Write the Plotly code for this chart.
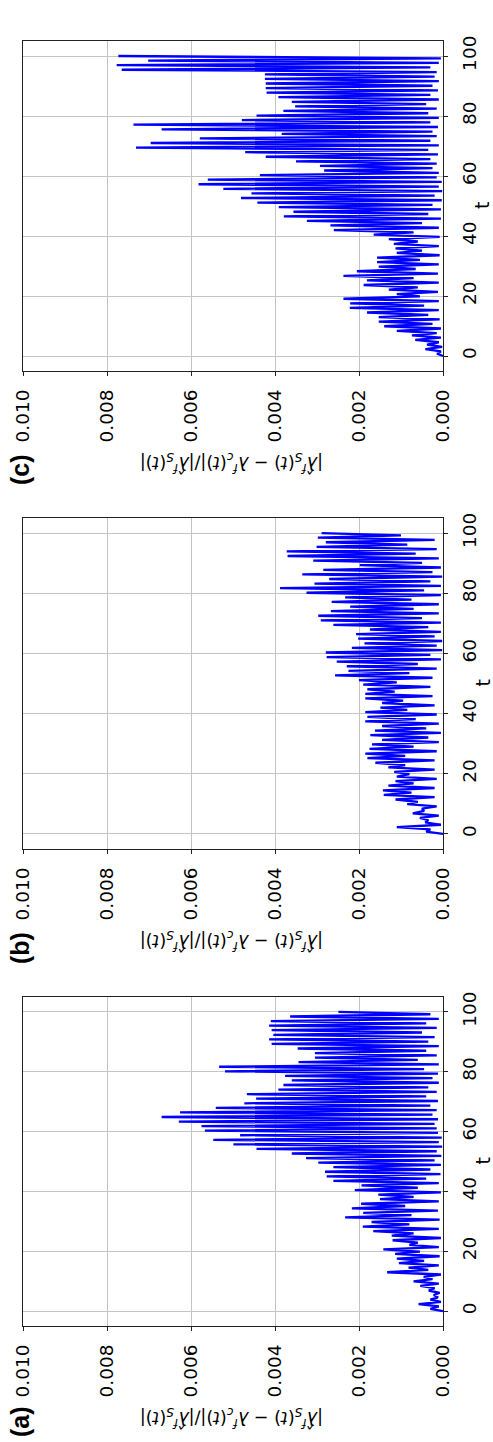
import plotly.graph_objects as go

# ---------------- data (values in units of 1e-3) ----------------
VALUE_SCALE = 1e-3
value_ticks = [0.000, 0.002, 0.004, 0.006, 0.008, 0.010]
value_ticktext = ["0.000", "0.002", "0.004", "0.006", "0.008", "0.010"]
t_ticks = [0, 20, 40, 60, 80, 100]
t_ticktext = ["0", "20", "40", "60", "80", "100"]
panel_labels = ["(a)", "(b)", "(c)"]

peaks_a = [0.30, 0.58, 0.30, 0.22, 0.34, 0.54, 0.70, 0.46, 1.33, 0.82,
           1.05, 1.10, 1.14, 1.42, 0.80, 1.20, 1.22, 1.66, 1.91, 1.70,
           2.33, 1.90, 2.17, 1.95, 1.50, 1.54, 2.10, 1.94, 2.61, 2.77,
           2.81, 2.61, 2.97, 3.26, 3.60, 4.44, 4.99, 5.47, 4.83, 5.67,
           5.75, 6.29, 6.70, 6.26, 5.41, 4.73, 4.45, 4.67, 3.92, 3.80,
           3.60, 3.76, 5.19, 5.33, 3.44, 3.05, 3.05, 3.46, 4.08, 4.14,
           4.04, 4.08, 4.14, 4.10, 3.64, 2.49]
troughs_a = [0.00, 0.10, 0.05, 0.12, 0.08, 0.20, 0.10, 0.25, 0.05, 0.35,
             0.10, 0.45, 0.08, 0.55, 0.10, 0.60, 0.05, 0.70, 0.10, 0.80,
             0.08, 0.75, 0.12, 0.90, 0.10, 0.70, 0.05, 0.60, 0.10, 0.40,
             0.06, 0.30, 0.05, 0.20, 0.04, 0.15, 0.02, 0.10, 0.03, 0.12,
             0.15, 0.20, 0.12, 0.25, 0.15, 0.30, 0.12, 0.40, 0.15, 0.35,
             0.10, 0.25, 0.12, 0.45, 0.10, 0.60,
             0.15, 0.40, 0.10, 0.35, 0.20, 0.50, 0.15, 0.40, 0.10, 0.30]

peaks_b = [0.40, 1.10, 0.42, 0.55, 0.72, 0.50, 0.85, 1.13, 1.41, 1.43,
           1.30, 1.13, 1.10, 1.16, 1.30, 1.61, 1.80, 1.85, 1.75, 1.69,
           1.45, 1.73, 1.62, 1.45, 1.85, 1.80, 1.85, 1.49, 1.45, 1.85,
           1.85, 1.80, 1.90, 2.00, 2.57, 2.25, 2.29, 2.53, 2.77, 2.79,
           2.17, 1.87, 2.02, 2.07, 1.74, 2.61, 2.91, 2.97, 2.67, 2.21,
           2.65, 2.33, 3.25, 3.88, 3.06, 2.71, 3.35, 2.85, 1.98, 3.09,
           3.70, 3.72, 3.01, 2.79, 2.98, 2.89]
troughs_b = [0.00, 0.30, 0.05, 0.35, 0.10, 0.45, 0.15, 0.60, 0.20, 0.75,
             0.20, 0.70, 0.15, 0.80, 0.20, 0.90, 0.20, 0.90, 0.15, 0.70,
             0.10, 0.35, 0.05, 0.40, 0.10, 0.65, 0.15, 0.85, 0.20, 0.95,
             0.25, 1.15, 0.30, 1.10, 0.25, 0.80, 0.15, 0.60, 0.05, 0.30,
             0.02, 0.15, 0.02, 0.20, 0.05, 0.35, 0.05, 0.50, 0.10, 0.70,
             0.10, 0.75, 0.05, 0.45, 0.05, 0.30, 0.02, 0.25, 0.05, 0.50,
             0.10, 0.65, 0.15, 0.85, 0.20, 1.00]

peaks_c = [0.14, 0.42, 0.38, 0.66, 0.74, 1.10, 1.40, 1.53, 1.53, 1.81,
           2.22, 2.21, 2.37, 1.10, 1.29, 1.89, 1.81, 2.37, 2.05, 1.53,
           1.57, 1.57, 1.10, 1.13, 1.17, 1.29, 1.65, 2.60, 2.68, 3.24,
           3.79, 3.56, 3.91, 4.42, 4.81, 4.56, 5.23, 5.82, 5.60, 4.36,
           2.83, 2.93, 3.50, 4.22, 4.71, 7.31, 6.96, 5.79, 3.84, 6.70,
           7.37, 4.79, 4.44, 3.80, 3.52, 3.60, 3.92, 4.20, 4.22, 4.22,
           4.24, 4.24, 7.65, 7.77, 7.02, 7.73]
troughs_c = [0.00, 0.05, 0.02, 0.10, 0.05, 0.15, 0.05, 0.25, 0.08, 0.35,
             0.10, 0.45, 0.10, 0.55, 0.12, 0.60, 0.10, 0.70, 0.12, 0.65,
             0.10, 0.55, 0.08, 0.50, 0.10, 0.60, 0.08, 0.70, 0.10, 0.50,
             0.05, 0.35, 0.05, 0.25, 0.03, 0.20, 0.02, 0.10, 0.03, 0.15,
             0.10, 0.25, 0.15, 0.30, 0.12, 0.35, 0.10, 0.30, 0.15, 0.25,
             0.12, 0.30, 0.10, 0.35, 0.15, 0.40, 0.10, 0.30, 0.12, 0.25,
             0.10, 0.20, 0.15, 0.30, 0.10, 0.05]

T_START, T_END = 0.0, 100.0

def build_series(troughs, peaks):
    vals = []
    for tr, pk in zip(troughs, peaks):
        vals.append(tr * VALUE_SCALE)
        vals.append(pk * VALUE_SCALE)
    n = len(vals)
    ts = [T_START + i * (T_END - T_START) / (n - 1) for i in range(n)]
    return ts, vals

W, H = 493, 1442
x_dom = [23 / W, 443 / W]
# frame top/bottom in pixels for (a), (b), (c)
frames = {"(a)": (997, 1326), "(b)": (518, 849), "(c)": (41, 371)}
label_y = {"(a)": 1422, "(b)": 948, "(c)": 470}
series = {"(a)": (troughs_a, peaks_a), "(b)": (troughs_b, peaks_b), "(c)": (troughs_c, peaks_c)}

FONT = "DejaVu Sans"
fig = go.Figure()
layout = dict(width=W, height=H, margin=dict(l=0, r=0, t=0, b=0, autoexpand=False),
              paper_bgcolor="white", plot_bgcolor="white", showlegend=False)
annotations = []

ylabel = ("|<i>λ̂</i><sup><i>f</i></sup><sub><i>S</i></sub>(<i>t</i>) − "
          "<i>λ</i><sup><i>f</i></sup><sub><i>c</i></sub>(<i>t</i>)|/"
          "|<i>λ̂</i><sup><i>f</i></sup><sub><i>S</i></sub>(<i>t</i>)|")

for idx, lab in enumerate(panel_labels, start=1):
    top, bot = frames[lab]
    ydom = [1 - bot / H, 1 - top / H]
    tr, pk = series[lab]
    ts, vals = build_series(tr, pk)
    xa = "x" if idx == 1 else f"x{idx}"
    ya = "y" if idx == 1 else f"y{idx}"
    fig.add_trace(go.Scatter(x=vals, y=ts, mode="lines", xaxis=xa, yaxis=ya,
                             line=dict(color="#0000ff", width=2.3)))
    xkey = "xaxis" if idx == 1 else f"xaxis{idx}"
    ykey = "yaxis" if idx == 1 else f"yaxis{idx}"
    common = dict(ticks="outside", ticklen=4, tickwidth=1, tickcolor="#222",
                  showline=True, mirror=True, linecolor="#222", linewidth=1.2,
                  showgrid=True, gridcolor="#c4c4c4", gridwidth=1, zeroline=False,
                  ticklabelstandoff=6, automargin=False, tickangle=-90,
                  tickfont=dict(family=FONT, size=18.5, color="black"))
    layout[xkey] = dict(domain=x_dom, anchor=ya, range=[0.010, 0.0],
                        tickvals=value_ticks, ticktext=value_ticktext, **common)
    layout[ykey] = dict(domain=ydom, anchor=xa, range=[-5, 105], side="right",
                        tickvals=t_ticks, ticktext=t_ticktext, **common)
    # panel label
    annotations.append(dict(text=f"<b>{lab}</b>", x=20 / W, y=1 - label_y[lab] / H,
                            xref="paper", yref="paper", showarrow=False,
                            textangle=-90, xanchor="center", yanchor="middle",
                            font=dict(family="Liberation Sans", size=25, color="black")))
    # value-axis title (upside down)
    annotations.append(dict(text=ylabel, x=232 / W, y=1 - (bot + 92) / H,
                            xref="paper", yref="paper", showarrow=False,
                            textangle=180, xanchor="center", yanchor="middle",
                            font=dict(family=FONT, size=17.5, color="black")))
    # t-axis title
    annotations.append(dict(text="t", x=482 / W, y=1 - ((top + bot) / 2) / H,
                            xref="paper", yref="paper", showarrow=False,
                            textangle=-90, xanchor="center", yanchor="middle",
                            font=dict(family=FONT, size=19, color="black")))

layout["annotations"] = annotations
fig.update_layout(**layout)
fig.write_html("out.html")
